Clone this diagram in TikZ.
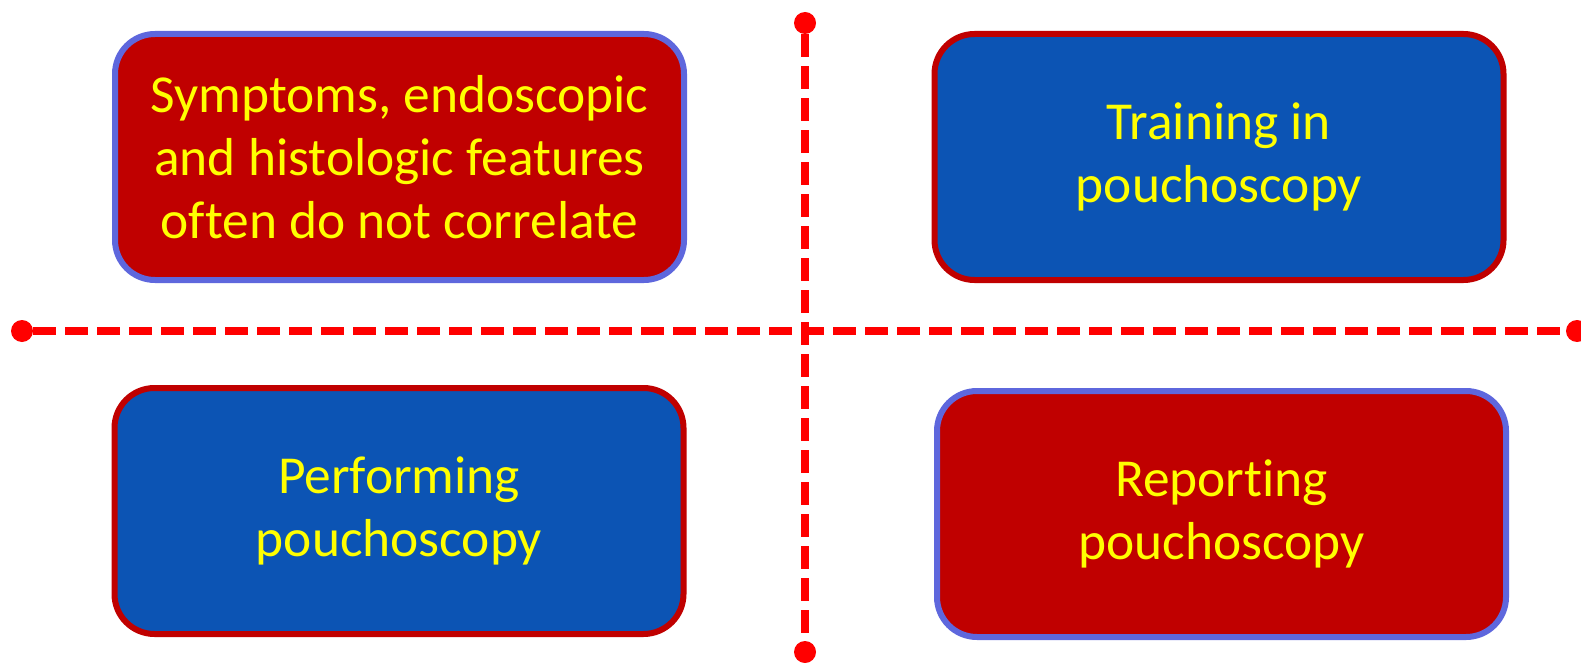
\documentclass[tikz,border=0pt]{standalone}
\usepackage{fontspec}
\setmainfont[Ligatures=NoCommon]{Carlito}
\usetikzlibrary{calc}
\definecolor{boxred}{RGB}{192,0,0}
\definecolor{boxblue}{RGB}{12,84,180}
\definecolor{rimblue}{RGB}{94,103,221}
\definecolor{rimred}{RGB}{192,0,0}
\definecolor{txtyellow}{RGB}{255,255,0}
\definecolor{axisred}{RGB}{255,0,0}
\tikzset{
  redbox/.style  = {draw=rimblue, fill=boxred, line width=0.12cm, rounded corners=0.8cm,
                    minimum width=11.38cm, minimum height=4.92cm, align=center,
                    text=txtyellow, font=\fontsize{30.4}{36}\selectfont},
  bluebox/.style = {redbox, draw=rimred, fill=boxblue},
  enddot/.style  = {circle, fill=axisred, inner sep=0pt, minimum size=0.44cm},
  axis/.style    = {axisred, line width=0.16cm, dash pattern=on 0.46cm off 0.18cm},
}

\begin{document}
\begin{tikzpicture}
  \useasboundingbox (0,0) rectangle (31.62,13.24);
  % axes
  \node[enddot] (left)   at (0.44,6.62) {};
  \node[enddot] (right)  at (31.54,6.62) {};
  \node[enddot] (top)    at (16.1,12.78) {};
  \node[enddot] (bottom) at (16.1,0.2) {};
  \draw[axis] (left) -- (right);
  \draw[axis] (top) -- (bottom);
  % quadrants
  \node[redbox]  (symptoms)   at (7.99,10.1) {Symptoms, endoscopic\\and histologic features\\often do not correlate};
  \node[bluebox] (training)   at (24.38,10.1) {Training in\\pouchoscopy};
  \node[bluebox] (performing) at (7.98,3.02) {Performing\\pouchoscopy};
  \node[redbox]  (reporting)  at (24.43,2.96) {Reporting\\pouchoscopy};
\end{tikzpicture}
\end{document}
